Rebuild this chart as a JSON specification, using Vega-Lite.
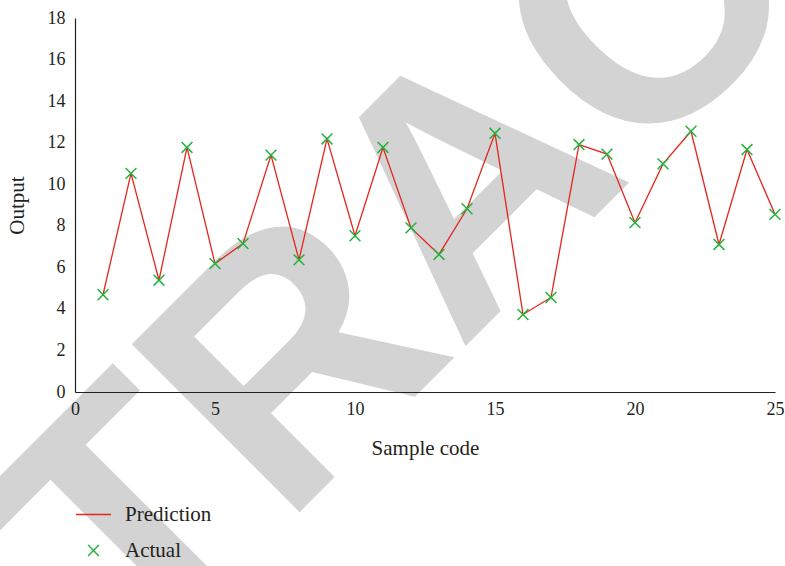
{
  "$schema": "https://vega.github.io/schema/vega-lite/v6.json",
  "width": 700,
  "height": 374,
  "autosize": {"type": "none"},
  "padding": {"left": 75, "top": 18, "right": 10, "bottom": 174},
  "background": "white",
  "config": {"view": {"stroke": null}, "font": "Liberation Serif"},
  "datasets": {
    "series": [
      {"code": 1, "output": 4.68, "series": "Prediction"},
      {"code": 2, "output": 10.52, "series": "Prediction"},
      {"code": 3, "output": 5.38, "series": "Prediction"},
      {"code": 4, "output": 11.77, "series": "Prediction"},
      {"code": 5, "output": 6.18, "series": "Prediction"},
      {"code": 6, "output": 7.14, "series": "Prediction"},
      {"code": 7, "output": 11.4, "series": "Prediction"},
      {"code": 8, "output": 6.36, "series": "Prediction"},
      {"code": 9, "output": 12.18, "series": "Prediction"},
      {"code": 10, "output": 7.52, "series": "Prediction"},
      {"code": 11, "output": 11.77, "series": "Prediction"},
      {"code": 12, "output": 7.9, "series": "Prediction"},
      {"code": 13, "output": 6.62, "series": "Prediction"},
      {"code": 14, "output": 8.82, "series": "Prediction"},
      {"code": 15, "output": 12.45, "series": "Prediction"},
      {"code": 16, "output": 3.73, "series": "Prediction"},
      {"code": 17, "output": 4.55, "series": "Prediction"},
      {"code": 18, "output": 11.91, "series": "Prediction"},
      {"code": 19, "output": 11.45, "series": "Prediction"},
      {"code": 20, "output": 8.15, "series": "Prediction"},
      {"code": 21, "output": 10.98, "series": "Prediction"},
      {"code": 22, "output": 12.55, "series": "Prediction"},
      {"code": 23, "output": 7.1, "series": "Prediction"},
      {"code": 24, "output": 11.67, "series": "Prediction"},
      {"code": 25, "output": 8.55, "series": "Prediction"},
      {"code": 1, "output": 4.68, "series": "Actual"},
      {"code": 2, "output": 10.52, "series": "Actual"},
      {"code": 3, "output": 5.38, "series": "Actual"},
      {"code": 4, "output": 11.77, "series": "Actual"},
      {"code": 5, "output": 6.18, "series": "Actual"},
      {"code": 6, "output": 7.14, "series": "Actual"},
      {"code": 7, "output": 11.4, "series": "Actual"},
      {"code": 8, "output": 6.36, "series": "Actual"},
      {"code": 9, "output": 12.18, "series": "Actual"},
      {"code": 10, "output": 7.52, "series": "Actual"},
      {"code": 11, "output": 11.77, "series": "Actual"},
      {"code": 12, "output": 7.9, "series": "Actual"},
      {"code": 13, "output": 6.62, "series": "Actual"},
      {"code": 14, "output": 8.82, "series": "Actual"},
      {"code": 15, "output": 12.45, "series": "Actual"},
      {"code": 16, "output": 3.73, "series": "Actual"},
      {"code": 17, "output": 4.55, "series": "Actual"},
      {"code": 18, "output": 11.91, "series": "Actual"},
      {"code": 19, "output": 11.45, "series": "Actual"},
      {"code": 20, "output": 8.15, "series": "Actual"},
      {"code": 21, "output": 10.98, "series": "Actual"},
      {"code": 22, "output": 12.55, "series": "Actual"},
      {"code": 23, "output": 7.1, "series": "Actual"},
      {"code": 24, "output": 11.67, "series": "Actual"},
      {"code": 25, "output": 8.55, "series": "Actual"}
    ],
    "watermark": [{"label": "RETRACTED"}]
  },
  "layer": [
    {
      "data": {"name": "watermark"},
      "mark": {
        "type": "text",
        "angle": 315,
        "fontSize": 345,
        "font": "Liberation Sans",
        "fontWeight": "bold",
        "fill": "#d3d3d3",
        "align": "center",
        "baseline": "middle",
        "clip": false
      },
      "encoding": {
        "x": {"datum": 14.25, "type": "quantitative"},
        "y": {"datum": 9.69, "type": "quantitative"},
        "text": {"field": "label", "type": "nominal"}
      }
    },
    {
      "data": {"name": "series"},
      "transform": [{"filter": "datum.series === 'Prediction'"}],
      "mark": {"type": "line", "strokeWidth": 1.3},
      "encoding": {
        "x": {
          "field": "code",
          "type": "quantitative",
          "title": "Sample code",
          "scale": {"domain": [0, 25], "nice": false, "zero": false},
          "axis": {
            "values": [0, 5, 10, 15, 20, 25],
            "ticks": false,
            "tickSize": 0,
            "grid": false,
            "domainColor": "#231f20",
            "domainWidth": 1.2,
            "labelFont": "Liberation Serif",
            "labelFontSize": 18,
            "labelColor": "#231f20",
            "labelPadding": 8,
            "labelFlush": false,
            "titleFont": "Liberation Serif",
            "titleFontSize": 21,
            "titleFontWeight": "normal",
            "titleColor": "#231f20",
            "titlePadding": 19,
            "zindex": 1
          }
        },
        "y": {
          "field": "output",
          "type": "quantitative",
          "title": "Output",
          "scale": {"domain": [0, 18], "nice": false},
          "axis": {
            "values": [0, 2, 4, 6, 8, 10, 12, 14, 16, 18],
            "ticks": false,
            "tickSize": 0,
            "grid": false,
            "domainColor": "#231f20",
            "domainWidth": 1.2,
            "labelFont": "Liberation Serif",
            "labelFontSize": 18,
            "labelColor": "#231f20",
            "labelPadding": 10,
            "labelFlush": false,
            "titleFont": "Liberation Serif",
            "titleFontSize": 21,
            "titleFontWeight": "normal",
            "titleColor": "#231f20",
            "titlePadding": 20,
            "zindex": 1
          }
        },
        "color": {
          "field": "series",
          "type": "nominal",
          "scale": {"domain": ["Prediction", "Actual"], "range": ["#e4261c", "#22b33c"]},
          "legend": {
            "title": null,
            "orient": "none",
            "legendX": 0,
            "legendY": 478,
            "padding": 0,
            "symbolSize": 1225,
            "symbolStrokeWidth": 1.4,
            "rowPadding": 7,
            "labelOffset": 13,
            "labelFont": "Liberation Serif",
            "labelFontSize": 21,
            "labelColor": "#231f20"
          }
        }
      }
    },
    {
      "data": {"name": "series"},
      "transform": [{"filter": "datum.series === 'Actual'"}],
      "mark": {"type": "point", "filled": false, "size": 1225, "strokeWidth": 1.5, "opacity": 1},
      "encoding": {
        "x": {"field": "code", "type": "quantitative", "title": "Sample code"},
        "y": {"field": "output", "type": "quantitative", "title": "Output"},
        "color": {
          "field": "series",
          "type": "nominal",
          "scale": {"domain": ["Prediction", "Actual"], "range": ["#e4261c", "#22b33c"]}
        },
        "shape": {
          "field": "series",
          "type": "nominal",
          "scale": {"domain": ["Prediction", "Actual"], "range": ["stroke", "M-0.31,-0.31L0.31,0.31M-0.31,0.31L0.31,-0.31"]}
        }
      }
    }
  ]
}
